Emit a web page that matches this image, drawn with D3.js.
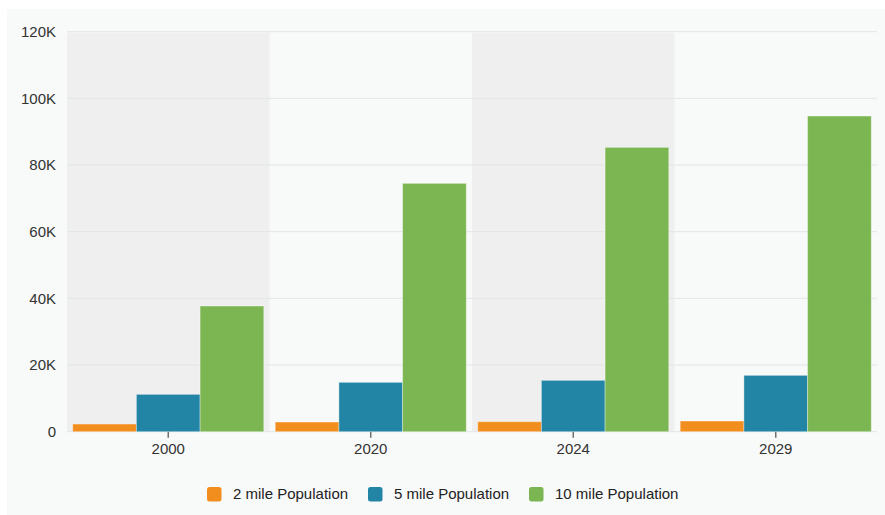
<!DOCTYPE html>
<html><head><meta charset="utf-8">
<script src="https://cdn.jsdelivr.net/npm/d3@7"></script>
<style>body{margin:0;background:#fff;}svg{display:block;font-family:"Liberation Sans",Arial,Helvetica,sans-serif;}</style>
</head><body><svg id="c" width="885" height="515"></svg>
<script>
const categories = ["2000","2020","2024","2029"];
const seriesNames = ["2 mile Population","5 mile Population","10 mile Population"];
const seriesColors = ["#F28E1E","#2285A6","#7BB653"];
const pop2mile = [2300, 2900, 3000, 3200];
const pop5mile = [11200, 14800, 15400, 16900];
const pop10mile = [37700, 74500, 85300, 94700];
const yTicks = [0,20000,40000,60000,80000,100000,120000];
const yTickLabels = ["0","20K","40K","60K","80K","100K","120K"];
const seriesValues = [pop2mile, pop5mile, pop10mile];

const svg = d3.select("#c");
const W = 885, H = 515;
const m = {left:67, right:8, top:31.7, bottom:83.3};
const pw = W - m.left - m.right, ph = H - m.top - m.bottom;
const FS = "15px";

svg.append("rect").attr("x",7).attr("y",9).attr("width",W-7).attr("height",H-9).attr("fill","#f8f9f9");

const x = d3.scaleBand().domain(categories).range([m.left, m.left+pw]).paddingInner(0).paddingOuter(0);
const xs = d3.scaleBand().domain(d3.range(seriesNames.length)).range([0, x.bandwidth()]).paddingOuter(0.09).paddingInner(0);
const y = d3.scaleLinear().domain([0,120000]).range([m.top+ph, m.top]);

// alternate bands
svg.append("g").selectAll("rect").data(categories.filter((d,i)=>i%2===0)).join("rect")
  .attr("x",d=>x(d)).attr("y",y(120000)+1).attr("width",x.bandwidth()).attr("height",y(0)-y(120000)-1)
  .attr("fill","#efefef");

// grid
svg.append("g").selectAll("line").data(yTicks).join("line")
  .attr("x1",m.left).attr("x2",m.left+pw).attr("y1",d=>y(d)).attr("y2",d=>y(d))
  .attr("stroke","#e1e6e6").attr("stroke-width",1);

// y axis labels
const yAxis = d3.axisLeft(y).tickValues(yTicks).tickSize(0).tickPadding(11)
  .tickFormat((d,i)=>yTickLabels[i]);
const ya = svg.append("g").attr("transform",`translate(${m.left},0)`).call(yAxis);
ya.select(".domain").remove();
ya.selectAll("text").attr("font-size",FS).attr("fill","#333").attr("font-family","Liberation Sans, Arial, sans-serif");

// bars
const g = svg.append("g");
seriesValues.forEach((vals,si)=>{
  g.append("g").selectAll("rect").data(vals).join("rect")
    .attr("x",(d,i)=>x(categories[i])+xs(si))
    .attr("y",d=>y(d))
    .attr("width",xs.bandwidth())
    .attr("height",d=>y(0)-y(d))
    .attr("fill",seriesColors[si])
    .attr("stroke","rgba(255,255,255,0.35)").attr("stroke-width",1);
});

// x axis
const xAxis = d3.axisBottom(x).tickSize(6).tickPadding(6);
const xa = svg.append("g").attr("transform",`translate(0,${y(0)})`).call(xAxis);
xa.select(".domain").remove();
xa.selectAll("line").attr("stroke","#707070").attr("stroke-width",1.5);
xa.selectAll("text").attr("font-size",FS).attr("fill","#333").attr("font-family","Liberation Sans, Arial, sans-serif");

// legend
const legX = [207, 368, 529];
const lg = svg.append("g");
seriesNames.forEach((n,i)=>{
  lg.append("rect").attr("x",legX[i]).attr("y",487).attr("width",14.5).attr("height",14.5).attr("rx",2.5)
    .attr("fill",seriesColors[i]);
  lg.append("text").attr("x",legX[i]+26).attr("y",494).attr("dy","0.35em")
    .attr("font-size",FS).attr("fill","#222").text(n);
});
</script></body></html>
